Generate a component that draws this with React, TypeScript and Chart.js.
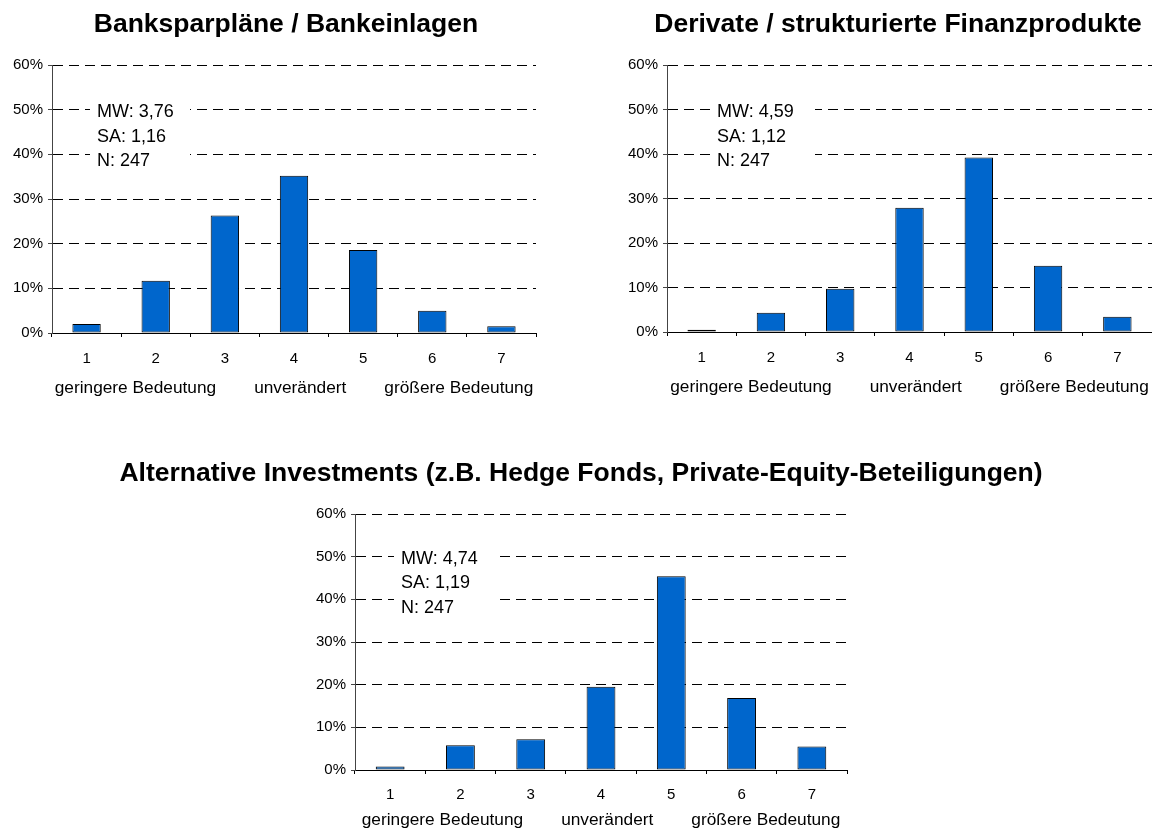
import React, { useEffect, useRef } from "react";
import { Chart, registerables } from "chart.js";

Chart.register(...registerables);

const FONT = '"Liberation Sans", Arial, Helvetica, sans-serif';

const categories = ["1", "2", "3", "4", "5", "6", "7"];
const bankValues = [2.0, 11.7, 26.3, 35.2, 18.6, 5.0, 1.5];
const derivValues = [0.5, 4.3, 9.7, 27.9, 39.2, 14.9, 3.4];
const altValues = [0.8, 5.8, 7.2, 19.5, 45.4, 16.9, 5.5];
const yMin = 0;
const yMax = 60;
const yStep = 10;
const scaleLabels = ["geringere Bedeutung", "unverändert", "größere Bedeutung"];
const bankStats = ["MW: 3,76", "SA: 1,16", "N: 247"];
const derivStats = ["MW: 4,59", "SA: 1,12", "N: 247"];
const altStats = ["MW: 4,74", "SA: 1,19", "N: 247"];
const bankTitle = "Banksparpläne / Bankeinlagen";
const derivTitle = "Derivate / strukturierte Finanzprodukte";
const altTitle = "Alternative Investments (z.B. Hedge Fonds, Private-Equity-Beteiligungen)";

const decorPlugin = {
  id: "decor",
  beforeDatasetsDraw(chart: any, _a: any, o: any) {
    const { ctx, chartArea, scales } = chart;
    const y0 = scales.y.getPixelForValue(o.statsValue);
    const x0 = chartArea.left + o.statsX;
    ctx.save();
    ctx.fillStyle = "#ffffff";
    ctx.fillRect(x0 - 7, y0 - 22, o.boxW, 2 * 24.5 + 30);
    ctx.font = `18px ${FONT}`;
    ctx.fillStyle = "#000";
    ctx.textAlign = "left";
    ctx.textBaseline = "alphabetic";
    o.stats.forEach((s: string, i: number) => ctx.fillText(s, x0, y0 + i * 24.5));
    ctx.restore();
  },
  afterDraw(chart: any, _a: any, o: any) {
    const { ctx, chartArea, scales } = chart;
    ctx.save();
    ctx.fillStyle = "#000";
    ctx.font = `bold ${o.titleSize}px ${FONT}`;
    ctx.textAlign = "center";
    ctx.textBaseline = "alphabetic";
    ctx.fillText(o.title, o.titleX, o.titleY);
    ctx.font = `17.3px ${FONT}`;
    const gap = 38;
    const ws = o.row.map((t: string) => ctx.measureText(t).width);
    const total = ws.reduce((a: number, b: number) => a + b, 0) + gap * (ws.length - 1);
    let x = scales.x.getPixelForValue(3) - total / 2;
    ctx.textAlign = "left";
    const y = chartArea.bottom + o.rowOffset;
    o.row.forEach((t: string, i: number) => {
      ctx.fillText(t, x, y);
      x += ws[i] + gap;
    });
    ctx.restore();
  },
};

type PanelProps = {
  left: number;
  top: number;
  width: number;
  height: number;
  values: number[];
  stats: string[];
  title: string;
  titleX: number;
  titleY: number;
  padding: { left: number; right: number; top: number; bottom: number };
  statsX: number;
  boxW: number;
  rowOffset: number;
  tickPad: number;
};

function BarPanel(p: PanelProps) {
  const ref = useRef<HTMLCanvasElement | null>(null);
  useEffect(() => {
    if (!ref.current) return;
    const chart = new Chart(ref.current, {
      type: "bar",
      data: {
        labels: categories,
        datasets: [
          {
            data: p.values,
            backgroundColor: "#0066CC",
            borderColor: "#000000",
            borderWidth: 1,
            borderSkipped: false,
            barPercentage: 0.41,
            categoryPercentage: 1,
          },
        ],
      },
      plugins: [decorPlugin as any],
      options: {
        responsive: false,
        animation: false,
        devicePixelRatio: 1,
        layout: { padding: p.padding },
        plugins: {
          legend: { display: false },
          tooltip: { enabled: false },
          title: { display: false },
          decor: {
            title: p.title,
            titleX: p.titleX,
            titleY: p.titleY,
            titleSize: 26.5,
            stats: p.stats,
            statsX: p.statsX,
            statsValue: 48.3,
            boxW: p.boxW,
            row: scaleLabels,
            rowOffset: p.rowOffset,
          },
        } as any,
        scales: {
          x: {
            afterFit: (s: any) => {
              s.height = 30;
            },
            grid: {
              display: true,
              drawOnChartArea: false,
              drawTicks: true,
              tickLength: 4,
              tickColor: "#000",
              offset: true,
            },
            border: { display: true, color: "#000", width: 1 },
            ticks: {
              color: "#000",
              font: { family: FONT, size: 15 },
              padding: p.tickPad,
              maxRotation: 0,
            },
          },
          y: {
            min: yMin,
            max: yMax,
            afterFit: (s: any) => {
              s.width = 40;
            },
            grid: {
              color: (c: any) => (c.tick && c.tick.value === 0 ? "rgba(0,0,0,0)" : "#000"),
              lineWidth: 1,
              drawTicks: true,
              tickLength: 4,
              tickColor: "#444",
              tickBorderDash: [],
            },
            border: { display: true, color: "#444", width: 1, dash: [10, 6] },
            ticks: {
              stepSize: yStep,
              color: "#000",
              font: { family: FONT, size: 15 },
              padding: 5,
              callback: (v: any) => `${v}%`,
            },
          },
        },
      } as any,
    });
    return () => chart.destroy();
  }, []);
  return (
    <canvas
      ref={ref}
      width={p.width}
      height={p.height}
      style={{ position: "absolute", left: p.left, top: p.top, width: p.width, height: p.height }}
    />
  );
}

export default function App() {
  return (
    <div style={{ position: "absolute", left: 0, top: 0, width: 1152, height: 832, background: "#fff", overflow: "hidden" }}>
      <BarPanel
        left={0}
        top={0}
        width={576}
        height={410}
        values={bankValues}
        stats={bankStats}
        title={bankTitle}
        titleX={286}
        titleY={32}
        padding={{ left: 12, right: 40, top: 65, bottom: 47 }}
        statsX={45}
        boxW={100}
        rowOffset={60}
        tickPad={13}
      />
      <BarPanel
        left={576}
        top={0}
        width={576}
        height={410}
        values={derivValues}
        stats={derivStats}
        title={derivTitle}
        titleX={322}
        titleY={32}
        padding={{ left: 51, right: 0, top: 65, bottom: 48 }}
        statsX={50}
        boxW={105}
        rowOffset={60}
        tickPad={13}
      />
      <BarPanel
        left={0}
        top={440}
        width={1152}
        height={392}
        values={altValues}
        stats={altStats}
        title={altTitle}
        titleX={581}
        titleY={41}
        padding={{ left: 315, right: 305, top: 74, bottom: 32 }}
        statsX={46}
        boxW={103}
        rowOffset={55}
        tickPad={12}
      />
    </div>
  );
}
